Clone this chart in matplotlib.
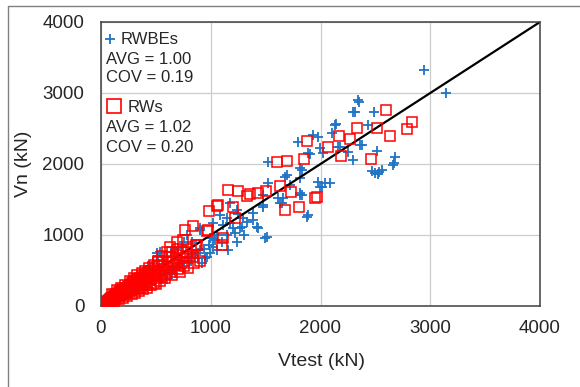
import matplotlib
matplotlib.use("Agg")
import matplotlib.pyplot as plt
from matplotlib.lines import Line2D

plt.rcParams["font.family"] = ["Liberation Sans", "DejaVu Sans"]

# RWBEs (blue +)
rwbe_x = [2943, 3144, 2351, 2296, 2488, 2141, 2433, 1932, 1977, 2105, 2360, 2515,
          2679, 2670, 1996, 2023, 1904, 2251, 2296, 2178, 2470, 2500, 2530, 2560,
          2520, 2041, 2087, 1832, 1795, 1886, 1522, 1813, 1695, 1522, 1813, 1613,
          1649, 1476, 1877, 1385, 1294, 1421, 1513, 1084, 1267, 1330, 1175, 1021,
          1977, 1677, 1813, 1722, 1476, 1658, 1476, 1631, 1831, 1886, 1385, 1430,
          1494, 2014, 1175, 1239, 1148, 1112, 1285, 1057, 1221, 993, 1239, 1021,
          1157, 966, 902, 784, 829, 902, 510, 540, 447, 355, 565, 18, 1057, 1021,
          902, 948, 993, 1039, 920, 36, 419, 620, 700, 750, 800, 650, 480, 300,
          250, 200, 400, 550, 850, 150, 220, 330, 390, 460, 530, 600, 680, 720,
          760, 820, 880, 2661, 1996, 1813, 2342, 2314, 2132, 2378, 2160,
          430, 470, 520, 580, 640, 700, 760, 600, 650, 760, 820, 880, 940, 980,
          1100, 1150, 1200, 1300, 1250]
rwbe_y = [3324, 3000, 2873, 2732, 2732, 2563, 2549, 2408, 2380, 2437, 2268, 2183,
          2099, 2014, 2225, 2155, 2141, 2169, 2056, 2239, 1900, 1880, 1890, 1910,
          1860, 1732, 1732, 1915, 2310, 2155, 2028, 1944, 1845, 1732, 1563, 1521,
          1451, 1394, 1254, 1310, 1239, 1113, 972, 1282, 1099, 1183, 1169, 1169,
          1747, 1817, 1803, 1704, 1563, 1521, 1423, 1451, 1563, 1282, 1211, 1099,
          958, 1676, 1451, 1352, 1239, 1141, 1113, 1000, 1028, 958, 901, 831,
          789, 690, 1070, 1000, 901, 789, 747, 760, 408, 324, 394, 42, 789, 958,
          1099, 676, 747, 930, 606, 14, 268, 500, 560, 620, 680, 450, 350, 200,
          180, 140, 250, 440, 720, 120, 180, 290, 310, 380, 420, 500, 540, 600,
          640, 700, 740, 1986, 1676, 1592, 2901, 2732, 2549, 2268, 2239,
          560, 620, 700, 690, 760, 820, 900, 380, 500, 560, 640, 680, 800, 860,
          900, 1000, 1100, 1000, 1300]

# RWs (red squares)
rw_x = [45, 55, 60, 70, 75, 80, 90, 95, 100, 105, 110, 115, 120, 125, 130, 135,
        140, 150, 155, 160, 165, 170, 175, 180, 185, 190, 200, 205, 210, 215, 220,
        230, 235, 240, 250, 255, 260, 270, 275, 280, 290, 295, 300, 310, 315, 320,
        330, 335, 340, 350, 355, 360, 370, 375, 380, 390, 400, 410, 420, 430, 440,
        450, 460, 470, 480, 490, 500, 510, 520, 530, 545, 560, 575, 590, 600, 620,
        640, 660, 680, 700, 720, 740, 760, 780,
        100, 120, 150, 160, 180, 200, 220, 240, 260, 280, 300, 310, 330, 350, 370,
        380, 400, 420, 440, 460, 480, 500, 520, 540, 560, 580, 620, 650, 680, 720,
        750, 790, 820, 850, 870, 900,
        747, 784, 838, 875, 765, 838, 975, 1112, 1103, 984, 1057, 1221, 966, 693,
        629, 650, 700, 560, 600, 520,
        1157, 1248, 1330, 1358, 1431, 1503, 1631, 1731, 1804, 1677, 1950, 1965,
        1066, 1203, 1604, 1695, 1850, 1877, 2597, 2834, 2788, 2633, 2515, 2333,
        2169, 2269, 2068, 2187, 2460]
rw_y = [40, 70, 50, 85, 60, 95, 75, 110, 85, 130, 95, 120, 150, 105, 140, 165,
        120, 170, 140, 195, 150, 185, 210, 160, 200, 230, 180, 240, 205, 170, 260,
        215, 250, 195, 280, 230, 300, 250, 220, 320, 270, 340, 240, 300, 360, 275,
        330, 380, 260, 310, 400, 350, 290, 420, 360, 330, 450, 390, 300, 470, 420,
        360, 500, 440, 330, 520, 460, 400, 560, 490, 420, 580, 520, 450, 620, 540,
        480, 640, 580, 520, 680, 600, 560, 700,
        165, 60, 230, 95, 260, 115, 300, 140, 350, 175, 400, 190, 440, 215, 470,
        240, 500, 260, 540, 290, 580, 310, 620, 350, 640, 390, 690, 430, 720, 480,
        760, 540, 800, 600, 860, 640,
        930, 761, 690, 859, 1070, 1127, 1070, 958, 859, 1338, 1408, 1239, 1056, 901,
        831, 760, 800, 700, 760, 640,
        1634, 1620, 1549, 1577, 1592, 1620, 1690, 1606, 1394, 1352, 1521, 1535,
        1423, 1394, 2028, 2042, 2070, 2324, 2761, 2592, 2493, 2394, 2507, 2507,
        2394, 2352, 2239, 2113, 2070]

ticks = [0, 1000, 2000, 3000, 4000]
blue = "#1f74c4"
red = "#ff0000"
txt = "#262626"

fig = plt.figure(figsize=(5.8, 3.87), dpi=100)
ax = fig.add_axes([101 / 580, 1 - 306 / 387, 439 / 580, 284 / 387])

ax.plot(rwbe_x, rwbe_y, linestyle="none", marker="+", markersize=7.5,
        markeredgewidth=1.3, color=blue, zorder=2)
ax.plot([0, 4000], [0, 4000], color="black", linewidth=1.6, zorder=2.5)
ax.plot(rw_x, rw_y, linestyle="none", marker="s", markersize=6.5,
        markerfacecolor="none", markeredgecolor=red, markeredgewidth=1.1, zorder=3)

ax.set_xlim(0, 4000)
ax.set_ylim(0, 4000)
ax.set_xticks(ticks)
ax.set_yticks(ticks)
ax.grid(True, color="#cccccc", linewidth=0.9)
ax.set_axisbelow(True)
ax.tick_params(length=0, labelsize=13.5, labelcolor=txt)
ax.tick_params(axis="x", pad=10)
ax.tick_params(axis="y", pad=12)
for s in ax.spines.values():
    s.set_color("#404040")
    s.set_linewidth(1.1)

fig.text(23 / 580, 1 - 164 / 387, "Vn (kN)", rotation=90, ha="center",
         va="center", fontsize=14, color=txt)
fig.text(322 / 580, 1 - 361 / 387, "Vtest (kN)", ha="center", va="center",
         fontsize=14, color=txt)

# legend-like annotations
def fx(px):
    return px / 580

def fy(py):
    return 1 - py / 387

fig.add_artist(Line2D([fx(110)], [fy(39)], marker="+", markersize=7,
                      markeredgewidth=1.3, color=blue, linestyle="none"))
fig.text(fx(121), fy(39), "RWBEs", va="center", fontsize=12, color=txt)
fig.text(fx(106), fy(59), "AVG = 1.00", va="center", fontsize=12, color=txt)
fig.text(fx(106), fy(78), "COV = 0.19", va="center", fontsize=12, color=txt)
fig.add_artist(Line2D([fx(114)], [fy(106)], marker="s", markersize=10,
                      markerfacecolor="none", markeredgecolor=red,
                      markeredgewidth=1.2, linestyle="none"))
fig.text(fx(128), fy(107), "RWs", va="center", fontsize=12, color=txt)
fig.text(fx(106), fy(128), "AVG = 1.02", va="center", fontsize=12, color=txt)
fig.text(fx(106), fy(147), "COV = 0.20", va="center", fontsize=12, color=txt)

# outer frame (top and left edges visible)
fig.add_artist(Line2D([fx(8), fx(8), 1.0], [0.0, fy(5.5), fy(5.5)],
                      color="#808080", linewidth=1.0))

fig.savefig("out.png", dpi=100)
